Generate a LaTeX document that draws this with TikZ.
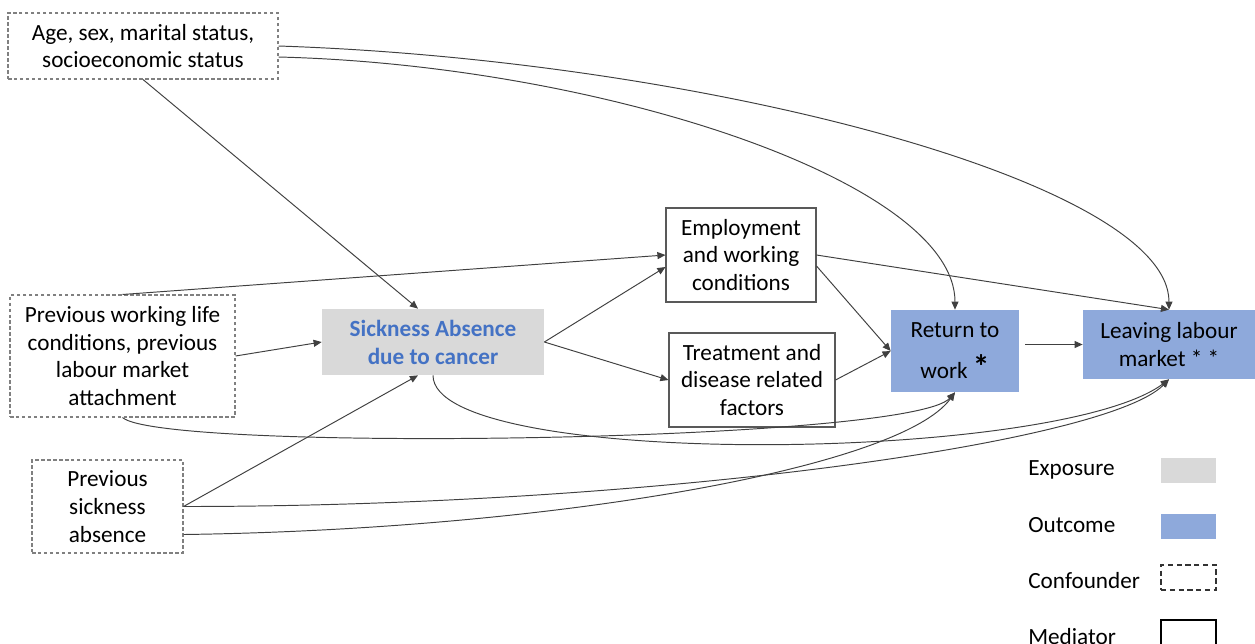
\documentclass[tikz,border=0pt]{standalone}
\usepackage{fontspec}
\setmainfont{Carlito}
\usepackage{tikz}
\usetikzlibrary{arrows.meta}
\definecolor{expgray}{HTML}{D9D9D9}
\definecolor{outblue}{HTML}{8EA9DB}
\definecolor{expblue}{HTML}{4472C4}
\definecolor{edgegray}{HTML}{404040}

\begin{document}
\begin{tikzpicture}[font=\fontsize{13.2}{15.9}\selectfont,
  confounder/.style={draw=black!50,line width=0.6pt,dash pattern=on 2pt off 1.4pt,align=center,inner sep=0pt},
  mediator/.style={draw=black!65,line width=0.6pt,align=center,inner sep=0pt},
  exposure/.style={fill=expgray,align=center,inner sep=0pt,text=expblue,font=\fontsize{13.2}{15.9}\selectfont\bfseries},
  outcome/.style={fill=outblue,align=center,inner sep=0pt},
  legkey/.style={minimum width=1.1cm,minimum height=0.5cm,inner sep=0pt},
  link/.style={draw=edgegray,line width=0.55pt,-{Triangle[length=4.6pt,width=4pt]}}]
  \useasboundingbox (0,0) rectangle (25.1,-12.86);

  \node[confounder,minimum width=5.4cm,minimum height=1.32cm] (age) at (2.86,-0.92) {Age, sex, marital status,\\socioeconomic status};
  \node[confounder,minimum width=4.5cm,minimum height=2.44cm] (prevwork) at (2.45,-7.12) {Previous working life\\conditions, previous\\labour market\\attachment};
  \node[confounder,minimum width=3.02cm,minimum height=1.86cm] (prevsick) at (2.15,-10.13) {Previous\\sickness\\absence};
  \node[exposure,minimum width=4.44cm,minimum height=1.32cm] (sick) at (8.66,-6.84) {Sickness Absence\\due to cancer};
  \node[mediator,minimum width=3cm,minimum height=1.88cm] (empl) at (14.82,-5.1) {Employment\\and working\\conditions};
  \node[mediator,minimum width=3.32cm,minimum height=1.88cm] (treat) at (15.04,-7.6) {Treatment and\\disease related\\factors};
  \node[outcome,minimum width=2.56cm,minimum height=1.64cm] (rtw) at (19.1,-7.02) {Return to\\[7.4pt]work {\fontsize{19}{19}\selectfont\bfseries *}};
  \node[outcome,minimum width=3.44cm,minimum height=1.38cm] (leave) at (23.38,-6.89) {Leaving labour\\market * *};

  \draw[link] (age.south) -- ([xshift=-0.3cm]sick.north);
  \draw[link] ([yshift=-0.22cm]age.east) .. controls +(6.44,-0.16) and +(0,2.56) .. (rtw.north);
  \draw[link] (age.east) .. controls +(8.44,-0.28) and +(0,2.56) .. (leave.north);
  \draw[link] (prevwork.north) -- (empl.west);
  \draw[link] (prevwork.east) -- (sick.west);
  \draw[link] (prevwork.south) .. controls +(0.8,-0.7) and +(-0.9,-1.0) .. (rtw.south);
  \draw[link] (prevsick.east) -- ([xshift=-0.3cm]sick.south);
  \draw[link] (prevsick.east) .. controls +(9.34,0) and +(-1.26,-1.28) .. (leave.south);
  \draw[link] ([yshift=-0.56cm]prevsick.east) .. controls +(7.34,0.1) and +(-1.1,-1.52) .. (rtw.south);
  \draw[link] (sick.east) -- ([yshift=-0.24cm]empl.west);
  \draw[link] (sick.east) -- (treat.west);
  \draw[link] (sick.south) .. controls +(0,-1.88) and +(-2.26,-1.68) .. (leave.south);
  \draw[link] ([yshift=-0.22cm]empl.east) -- (rtw.west);
  \draw[link] (empl.east) -- (leave.north);
  \draw[link] (treat.east) -- (rtw.west);
  \draw[link,shorten <=0.12cm] (rtw.east |- leave.west) -- (leave.west);

  \node[anchor=base west,inner sep=0pt] (lexp) at (20.56,-9.5) {Exposure};
  \node[anchor=base west,inner sep=0pt] (lout) at (20.56,-10.64) {Outcome};
  \node[anchor=base west,inner sep=0pt] (lconf) at (20.56,-11.76) {Confounder};
  \node[anchor=base west,inner sep=0pt] (lmed) at (20.56,-12.88) {Mediator};
  \node[legkey,fill=expgray] (kexp) at (23.77,-9.41) {};
  \node[legkey,fill=outblue] (kout) at (23.77,-10.53) {};
  \node[legkey,draw=black!80,line width=0.8pt,dash pattern=on 3pt off 2pt] (kconf) at (23.77,-11.55) {};
  \node[legkey,draw=black,line width=0.8pt] (kmed) at (23.77,-12.65) {};
\end{tikzpicture}
\end{document}
